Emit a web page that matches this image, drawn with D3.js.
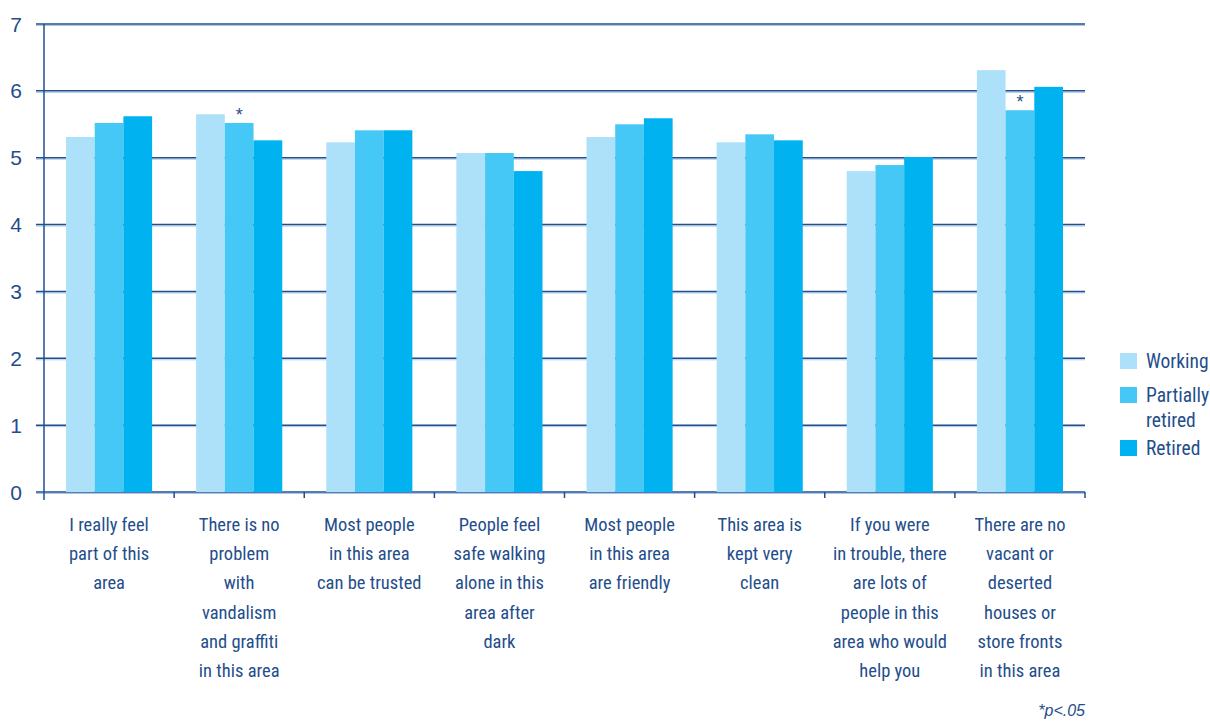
<!DOCTYPE html>
<html>
<head>
<meta charset="utf-8">
<script src="https://cdn.jsdelivr.net/npm/d3@7"></script>
<style>
  body { margin: 0; background: #fff; }
  svg text { fill: #1f4e8c; }
</style>
</head>
<body>
<svg id="canvas"></svg>
<script>
// categories (already wrapped the way the original wraps them)
const categories = [
    ["I really feel", "part of this", "area"],
    ["There is no", "problem", "with", "vandalism", "and graffiti", "in this area"],
    ["Most people", "in this area", "can be trusted"],
    ["People feel", "safe walking", "alone in this", "area after", "dark"],
    ["Most people", "in this area", "are friendly"],
    ["This area is", "kept very", "clean"],
    ["If you were", "in trouble, there", "are lots of", "people in this", "area who would", "help you"],
    ["There are no", "vacant or", "deserted", "houses or", "store fronts", "in this area"]
];
const seriesNames = ["Working", "Partially retired", "Retired"];
const working = [5.31, 5.65, 5.23, 5.07, 5.31, 5.23, 4.80, 6.31];
const partially = [5.52, 5.52, 5.41, 5.07, 5.50, 5.35, 4.89, 5.71];
const retired = [5.62, 5.26, 5.41, 4.80, 5.59, 5.26, 5.01, 6.06];
const significant = [false, true, false, false, false, false, false, true]; // * on partially retired
const yTicks = [0, 1, 2, 3, 4, 5, 6, 7];

const width = 1210, height = 722;
const svg = d3.select("#canvas").attr("width", width).attr("height", height);

const marginLeft = 44, marginRight = 125, marginTop = 24, marginBottom = 230;
const font = "'Liberation Sans Narrow', 'Roboto Condensed', 'Liberation Sans', Arial, sans-serif";

const color = d3.scaleOrdinal()
    .domain(seriesNames)
    .range(["#ade1fa", "#45c8f5", "#00b2ef"]);

const values = [working, partially, retired];

const x0 = d3.scaleBand()
    .domain(d3.range(categories.length))
    .range([marginLeft, width - marginRight]);

const x1 = d3.scaleBand()
    .domain(seriesNames)
    .range([22, x0.bandwidth() - 22]);

const y = d3.scaleLinear()
    .domain([0, 7])
    .range([height - marginBottom, marginTop]);

// gridlines
const grid = svg.append("g");
grid.selectAll("line.shadow")
    .data(yTicks)
    .join("line")
    .attr("class", "shadow")
    .attr("x1", marginLeft - 8)
    .attr("x2", width - marginRight)
    .attr("y1", d => y(d) + 1.5)
    .attr("y2", d => y(d) + 1.5)
    .attr("stroke", "#a9c6e6")
    .attr("stroke-width", 1);
grid.selectAll("line.main")
    .data(yTicks)
    .join("line")
    .attr("class", "main")
    .attr("x1", marginLeft - 8)
    .attr("x2", width - marginRight)
    .attr("y1", d => y(d))
    .attr("y2", d => y(d))
    .attr("stroke", "#214f8e")
    .attr("stroke-width", 1.5);

// y tick labels
svg.append("g")
    .selectAll("text")
    .data(yTicks)
    .join("text")
    .attr("x", 16)
    .attr("y", d => y(d))
    .attr("dy", "0.36em")
    .attr("text-anchor", "middle")
    .attr("font-family", "'Liberation Sans', Arial, sans-serif")
    .attr("font-size", 21)
    .text(d => d);

// bars
const groups = svg.append("g")
    .selectAll("g")
    .data(categories.map((c, i) => i))
    .join("g")
    .attr("transform", i => `translate(${x0(i)},0)`);

groups.selectAll("rect")
    .data(i => seriesNames.map((s, k) => ({ key: s, value: values[k][i] })))
    .join("rect")
    .attr("x", d => x1(d.key))
    .attr("width", x1.bandwidth())
    .attr("y", d => y(d.value))
    .attr("height", d => y(0) - y(d.value))
    .attr("fill", d => color(d.key));

// significance stars
groups.filter(i => significant[i])
    .append("text")
    .attr("x", x1(seriesNames[1]) + x1.bandwidth() / 2)
    .attr("y", i => y(partially[i]) - 2)
    .attr("text-anchor", "middle")
    .attr("font-family", "'Liberation Sans', Arial, sans-serif")
    .attr("font-size", 18)
    .text("*");

// axes lines
svg.append("line")
    .attr("x1", marginLeft).attr("x2", marginLeft)
    .attr("y1", y(7)).attr("y2", y(0) + 8)
    .attr("stroke", "#214f8e").attr("stroke-width", 1.5);

const boundaries = d3.range(categories.length).map(i => x0(i) + x0.bandwidth());
svg.append("g")
    .selectAll("line")
    .data(boundaries)
    .join("line")
    .attr("x1", d => d).attr("x2", d => d)
    .attr("y1", y(0)).attr("y2", y(0) + 6)
    .attr("stroke", "#214f8e").attr("stroke-width", 1.5);

// category labels
const labels = svg.append("g")
    .selectAll("text")
    .data(categories)
    .join("text")
    .attr("x", (d, i) => x0(i) + x0.bandwidth() / 2)
    .attr("y", y(0) + 39)
    .attr("text-anchor", "middle")
    .attr("font-family", font)
    .attr("font-size", 18.5);

labels.selectAll("tspan")
    .data(d => d)
    .join("tspan")
    .attr("x", function () { return d3.select(this.parentNode).attr("x"); })
    .attr("dy", (d, i) => i === 0 ? 0 : 29.2)
    .text(d => d);

// legend
const legendItems = [
    { key: "Working", lines: ["Working"], y: 353 },
    { key: "Partially retired", lines: ["Partially", "retired"], y: 387 },
    { key: "Retired", lines: ["Retired"], y: 440 }
];
const legend = svg.append("g");
legend.selectAll("rect")
    .data(legendItems)
    .join("rect")
    .attr("x", 1120)
    .attr("y", d => d.y)
    .attr("width", 17)
    .attr("height", 16)
    .attr("fill", d => color(d.key));

const legendText = legend.selectAll("text")
    .data(legendItems)
    .join("text")
    .attr("x", 1146)
    .attr("y", d => d.y + 15)
    .attr("font-family", font)
    .attr("font-size", 19.5);
legendText.selectAll("tspan")
    .data(d => d.lines)
    .join("tspan")
    .attr("x", 1146)
    .attr("dy", (d, i) => i === 0 ? 0 : 25)
    .text(d => d);

// footnote
svg.append("text")
    .attr("x", width - marginRight)
    .attr("y", 716)
    .attr("text-anchor", "end")
    .attr("font-family", "'Liberation Sans', Arial, sans-serif")
    .attr("font-style", "italic")
    .attr("font-size", 16)
    .text("*p<.05");
</script>
</body>
</html>
